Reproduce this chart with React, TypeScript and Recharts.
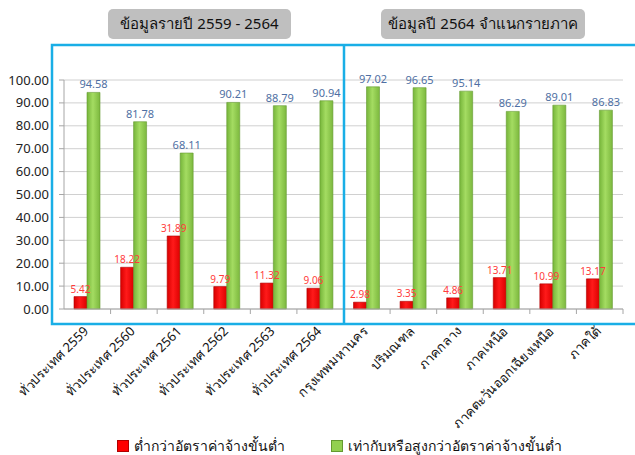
import React from "react";
import { Bar, BarChart, CartesianGrid, LabelList, XAxis, YAxis } from "recharts";

const CATEGORIES = [
  "ทั่วประเทศ 2559",
  "ทั่วประเทศ 2560",
  "ทั่วประเทศ 2561",
  "ทั่วประเทศ 2562",
  "ทั่วประเทศ 2563",
  "ทั่วประเทศ 2564",
  "กรุงเทพมหานคร",
  "ปริมณฑล",
  "ภาคกลาง",
  "ภาคเหนือ",
  "ภาคตะวันออกเฉียงเหนือ",
  "ภาคใต้",
];
const BELOW = [5.42, 18.22, 31.89, 9.79, 11.32, 9.06, 2.98, 3.35, 4.86, 13.71, 10.99, 13.17];
const AT_OR_ABOVE = [94.58, 81.78, 68.11, 90.21, 88.79, 90.94, 97.02, 96.65, 95.14, 86.29, 89.01, 86.83];
const Y_TICKS = [0, 10, 20, 30, 40, 50, 60, 70, 80, 90, 100];
const SERIES_NAMES = ["ต่ำกว่าอัตราค่าจ้างขั้นต่ำ", "เท่ากับหรือสูงกว่าอัตราค่าจ้างขั้นต่ำ"];
const PANEL_TITLES = ["ข้อมูลรายปี 2559 - 2564", "ข้อมูลปี 2564 จำแนกรายภาค"];

const W = 635;
const H = 455;
const MARGIN = { top: 80, right: 12, bottom: 0, left: 0 };
const Y_WIDTH = 64;
const BAND = (W - MARGIN.left - MARGIN.right - Y_WIDTH) / CATEGORIES.length;
const FONT = "Tahoma, 'Noto Sans', 'DejaVu Sans', sans-serif";
const FRAME = "#19aee6";
const RED = "#ff0000";
const GREEN = "#92d050";

const data = CATEGORIES.map((name, i) => ({ name, below: BELOW[i], above: AT_OR_ABOVE[i] }));

function CategoryTick({ x, y, payload }: { x?: number; y?: number; payload?: { value: string } }) {
  if (x == null || y == null || !payload) return null;
  return (
    <g>
      <line x1={x + BAND / 2} x2={x + BAND / 2} y1={y} y2={y + 5} stroke="#a6a6a6" />
      <text
        transform={`translate(${x + 2},${y + 23}) rotate(-45)`}
        textAnchor="end"
        fontSize={13}
        fill="#111"
        fontFamily={FONT}
      >
        {payload.value}
      </text>
    </g>
  );
}

function ValueTick({ x, y, payload }: { x?: number; y?: number; payload?: { value: number } }) {
  if (x == null || y == null || !payload) return null;
  return (
    <text x={x - 8} y={y} dy="0.35em" textAnchor="end" fontSize={13} fill="#222" fontFamily={FONT}>
      {payload.value.toFixed(2)}
    </text>
  );
}

export default function App() {
  return (
    <div style={{ position: "absolute", left: 0, top: 0, width: W, height: H, background: "#fff", fontFamily: FONT }}>
      <BarChart width={W} height={H} data={data} margin={MARGIN} barSize={13} barGap={0}>
        <defs>
          <linearGradient id="gGreen" x1="0" y1="0" x2="1" y2="0">
            <stop offset="0%" stopColor="#76b53a" />
            <stop offset="45%" stopColor="#a4dc62" />
            <stop offset="100%" stopColor="#7cb83e" />
          </linearGradient>
          <linearGradient id="gRed" x1="0" y1="0" x2="1" y2="0">
            <stop offset="0%" stopColor="#d80000" />
            <stop offset="45%" stopColor="#ff1a1a" />
            <stop offset="100%" stopColor="#dc0000" />
          </linearGradient>
        </defs>
        <CartesianGrid vertical={false} stroke="#d0d0d0" />
        <XAxis
          dataKey="name"
          interval={0}
          height={146}
          tickLine={false}
          tickSize={0}
          tickMargin={0}
          axisLine={{ stroke: "#a6a6a6" }}
          tick={<CategoryTick />}
        />
        <YAxis
          width={Y_WIDTH}
          domain={[0, 100]}
          ticks={Y_TICKS}
          interval={0}
          tick={<ValueTick />}
          tickLine={{ stroke: "#a6a6a6" }}
          tickSize={5}
          axisLine={{ stroke: "#a6a6a6" }}
        />
        <Bar dataKey="below" name={SERIES_NAMES[0]} fill="url(#gRed)" stroke="#b00000" strokeWidth={0.6} isAnimationActive={false}>
          <LabelList dataKey="below" position="top" offset={4} style={{ fontSize: 10, fill: "#ff3b3b", fontFamily: FONT }} formatter={(v: number) => v.toFixed(2)} />
        </Bar>
        <Bar dataKey="above" name={SERIES_NAMES[1]} fill="url(#gGreen)" stroke="#649a30" strokeWidth={0.6} isAnimationActive={false}>
          <LabelList dataKey="above" position="top" offset={4} style={{ fontSize: 11, fill: "#4f6fa3", fontFamily: FONT }} formatter={(v: number) => v.toFixed(2)} />
        </Bar>
      </BarChart>

      {/* panel frames and titles */}
      <svg width={W} height={H} style={{ position: "absolute", left: 0, top: 0, pointerEvents: "none" }}>
        <polyline points={`${W + 2},45 52,45 52,324 ${W + 2},324`} fill="none" stroke={FRAME} strokeWidth={2.5} />
        <line x1={344} x2={344} y1={45} y2={324} stroke={FRAME} strokeWidth={2.5} />
        <rect x={108} y={9} width={183} height={30} rx={5} fill="#bfbfbf" />
        <rect x={381} y={9} width={204} height={30} rx={5} fill="#bfbfbf" />
        <text x={199.5} y={29} textAnchor="middle" fontSize={15} fill="#111" fontFamily={FONT}>{PANEL_TITLES[0]}</text>
        <text x={483} y={29} textAnchor="middle" fontSize={15} fill="#111" fontFamily={FONT}>{PANEL_TITLES[1]}</text>
      </svg>

      {/* legend */}
      {SERIES_NAMES.map((n, i) => (
        <div
          key={n}
          style={{
            position: "absolute",
            left: i === 0 ? 117 : 331,
            top: 434,
            height: 24,
            lineHeight: "24px",
            display: "flex",
            alignItems: "center",
            fontSize: 14,
            color: "#111",
            whiteSpace: "nowrap",
          }}
        >
          <span style={{ width: 10, height: 10, background: i === 0 ? RED : GREEN, border: `1px solid ${i === 0 ? "#b00000" : "#649a30"}`, marginRight: 5 }} />
          <span>{n}</span>
        </div>
      ))}
    </div>
  );
}
